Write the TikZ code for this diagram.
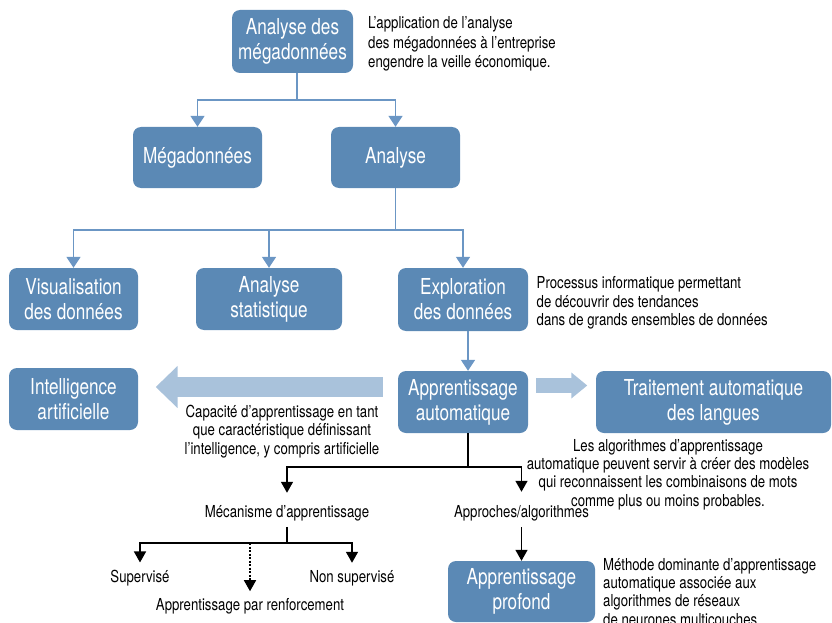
\documentclass[tikz,border=0pt]{standalone}
\usepackage{fontspec}
\setmainfont{TeX Gyre Heros}[FakeStretch=0.8]
\newfontfamily\boxfont{TeX Gyre Heros}[FakeStretch=0.78]
\usetikzlibrary{arrows.meta,calc}
\definecolor{boxblue}{RGB}{91,137,181}
\definecolor{lineblue}{RGB}{107,150,196}
\definecolor{paleblue}{RGB}{169,194,219}

\begin{document}
\begin{tikzpicture}[x=1pt,y=-1pt,
  box/.style={fill=boxblue, rounded corners=8pt, text=white, align=center,
    inner sep=0pt, font=\boxfont\fontsize{22}{25}\selectfont},
  txtnote/.style={align=left, inner sep=0pt, anchor=north west,
    font=\fontsize{16.5}{18.3}\selectfont},
  txtcap/.style={align=center, inner sep=0pt, anchor=north,
    font=\fontsize{16.5}{18.3}\selectfont},
  txtlab/.style={inner sep=0pt, anchor=base, font=\fontsize{16.5}{18}\selectfont},
  bline/.style={draw=lineblue, line width=1.6pt},
  barrow/.style={bline, -{Triangle[width=14pt,length=11pt]}},
  kline/.style={draw=black, line width=1.5pt},
  karrow/.style={kline, -{Triangle[width=12pt,length=11pt]}},
  bigarrow/.style={draw=paleblue}
]
\useasboundingbox (0,0) rectangle (832,623);

% boxes
\node[box, minimum width=121pt, minimum height=63pt] (a1) at (292.5,41.5) {Analyse des\\mégadonnées};
\node[box, minimum width=129pt, minimum height=61pt] (meg) at (197.5,157.5) {Mégadonnées};
\node[box, minimum width=129pt, minimum height=61pt] (ana) at (395.5,157.5) {Analyse};
\node[box, minimum width=129pt, minimum height=62pt] (vis) at (73.5,299) {Visualisation\\des données};
\node[box, minimum width=146pt, minimum height=62pt] (stat) at (269,299) {Analyse\\statistique};
\node[box, minimum width=130pt, minimum height=63pt] (expl) at (463,299.5) {Exploration\\des données};
\node[box, minimum width=129pt, minimum height=62pt] (ia) at (73.5,399) {Intelligence\\artificielle};
\node[box, minimum width=130pt, minimum height=62pt] (appr) at (463,402) {Apprentissage\\automatique};
\node[box, minimum width=235pt, minimum height=62pt] (tal) at (713.5,402) {Traitement automatique\\des langues};
\node[box, minimum width=147pt, minimum height=61pt] (prof) at (521.5,591.5) {Apprentissage\\profond};

% side notes
\node[txtnote, font=\fontsize{16.5}{19.5}\selectfont] (n1) at (368,16.5) {L’application de l’analyse\\des mégadonnées à l’entreprise\\engendre la veille économique.};
\node[txtnote] (n2) at (536.5,276.5) {Processus informatique permettant\\de découvrir des tendances\\dans de grands ensembles de données};
\node[txtcap] (c1) at (282,405) {Capacité d’apprentissage en tant\\que caractéristique définissant\\l’intelligence, y compris artificielle};
\node[txtcap] (c2) at (668,439) {Les algorithmes d’apprentissage\\automatique peuvent servir à créer des modèles\\qui reconnaissent les combinaisons de mots\\comme plus ou moins probables.};
\node[txtnote] (n3) at (603,558) {Méthode dominante d’apprentissage\\automatique associée aux\\algorithmes de réseaux\\de neurones multicouches.};

% tree labels
\node[txtlab] (mech) at (287,517) {Mécanisme d’apprentissage};
\node[txtlab] (appro) at (521.5,517) {Approches/algorithmes};
\node[txtlab] (sup) at (140,582) {Supervisé};
\node[txtlab] (nsup) at (352,582) {Non supervisé};
\node[txtlab] (renf) at (250,610) {Apprentissage par renforcement};

% blue hierarchy
\coordinate (a1o) at ([xshift=4.5pt]a1.south);
\coordinate (h1) at (0,100);
\draw[bline] (a1o) -- (a1o |- h1);
\draw[barrow] (a1o |- h1) -| (meg.north);
\draw[barrow] (a1o |- h1) -| (ana.north);
\coordinate (h2) at (0,230);
\draw[bline] (ana.south) -- (ana.south |- h2);
\draw[barrow] (ana.south |- h2) -| (vis.north);
\draw[barrow] (ana.south |- h2) -| (stat.north);
\draw[barrow] (ana.south |- h2) -| (expl.north);
\coordinate (eo) at ([xshift=5pt]expl.south);
\draw[barrow] (eo) -- (eo |- appr.north);

% wide pale arrows
\coordinate (la) at ([yshift=15pt]appr.west);
\draw[bigarrow, line width=20pt, -{Triangle[width=41pt,length=22pt]},
  shorten <=15pt, shorten >=17.5pt] (la) -- (la -| ia.east);
\coordinate (ra) at ([yshift=16.5pt]appr.east);
\draw[bigarrow, line width=15.5pt, -{Triangle[width=25pt,length=16pt]},
  shorten <=8pt, shorten >=8.5pt] (ra) -- (ra -| tal.west);

% black tree
\coordinate (ao) at ([xshift=5pt]appr.south);
\coordinate (h3) at (0,467);
\draw[kline] (ao) -- (ao |- h3);
\draw[karrow, shorten >=12pt] (ao |- h3) -| (mech.north);
\draw[karrow, shorten >=13pt] (ao |- h3) -| (appro.north);
\coordinate (h4) at (0,543);
\draw[kline, shorten <=6pt] (mech.south) -- (mech.south |- h4);
\draw[karrow, shorten >=7pt] (mech.south |- h4) -| (sup.north);
\draw[karrow, shorten >=7pt] (mech.south |- h4) -| (nsup.north);
\draw[karrow, dash pattern=on 2pt off 1.5pt, shorten >=6.5pt] (renf.north |- h4) -- (renf.north);
\draw[karrow, shorten <=6.5pt] (appro.south) -- (appro.south |- prof.north);
\end{tikzpicture}
\end{document}
